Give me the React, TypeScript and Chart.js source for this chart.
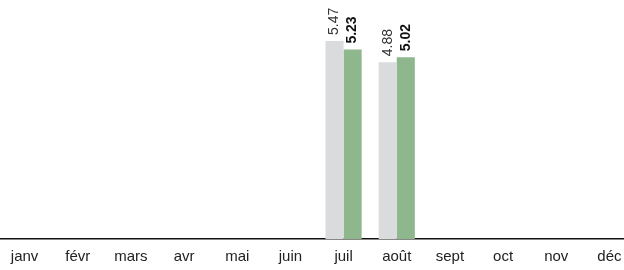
import React, { useEffect, useRef } from "react";
import { Chart, registerables } from "chart.js";

Chart.register(...registerables);

const months = ["janv", "févr", "mars", "avr", "mai", "juin", "juil", "août", "sept", "oct", "nov", "déc"];
const seriesPrev: (number | null)[] = [null, null, null, null, null, null, 5.47, 4.88, null, null, null, null];
const seriesCurr: (number | null)[] = [null, null, null, null, null, null, 5.23, 5.02, null, null, null, null];

const FONT = "'Liberation Sans', Arial, sans-serif";

const labelPlugin = {
  id: "barLabels",
  afterDatasetsDraw(chart: any) {
    const ctx = chart.ctx;
    chart.data.datasets.forEach((ds: any, di: number) => {
      const meta = chart.getDatasetMeta(di);
      meta.data.forEach((el: any, i: number) => {
        const v = ds.data[i];
        if (v === null || v === undefined) return;
        ctx.save();
        ctx.translate(el.x, el.y - 6);
        ctx.rotate(-Math.PI / 2);
        ctx.textAlign = "left";
        ctx.textBaseline = "middle";
        ctx.font = (di === 1 ? "bold " : "") + "14px " + FONT;
        ctx.fillStyle = di === 1 ? "#111111" : "#333333";
        ctx.fillText(v.toFixed(2), 0, 0);
        ctx.restore();
      });
    });
  },
};

export default function App() {
  const ref = useRef<HTMLCanvasElement | null>(null);
  useEffect(() => {
    document.body.style.margin = "0";
    document.body.style.overflow = "hidden";
    const chart = new Chart(ref.current as HTMLCanvasElement, {
      type: "bar",
      data: {
        labels: months,
        datasets: [
          {
            data: seriesPrev,
            backgroundColor: "#dadbdc",
            categoryPercentage: 0.68,
            barPercentage: 1.0,
          },
          {
            data: seriesCurr,
            backgroundColor: "#8fb78d",
            categoryPercentage: 0.68,
            barPercentage: 1.0,
          },
        ],
      },
      options: {
        animation: false,
        responsive: true,
        maintainAspectRatio: false,
        layout: { padding: { top: 0, bottom: 0, left: 0, right: 0 } },
        plugins: { legend: { display: false }, tooltip: { enabled: false } },
        scales: {
          x: {
            grid: { display: false, drawTicks: false },
            border: { display: true, color: "#111111", width: 1.5 },
            ticks: { color: "#222222", font: { family: FONT, size: 15 }, padding: 9, maxRotation: 0 },
          },
          y: {
            display: false,
            min: 0,
            max: 6.6,
          },
        },
      },
      plugins: [labelPlugin],
    });
    return () => chart.destroy();
  }, []);
  return (
    <div style={{ position: "relative", width: 624, height: 270, overflow: "hidden" }}>
      <div style={{ position: "absolute", left: -2, top: 0, width: 638, height: 275 }}>
        <canvas ref={ref} />
      </div>
    </div>
  );
}
